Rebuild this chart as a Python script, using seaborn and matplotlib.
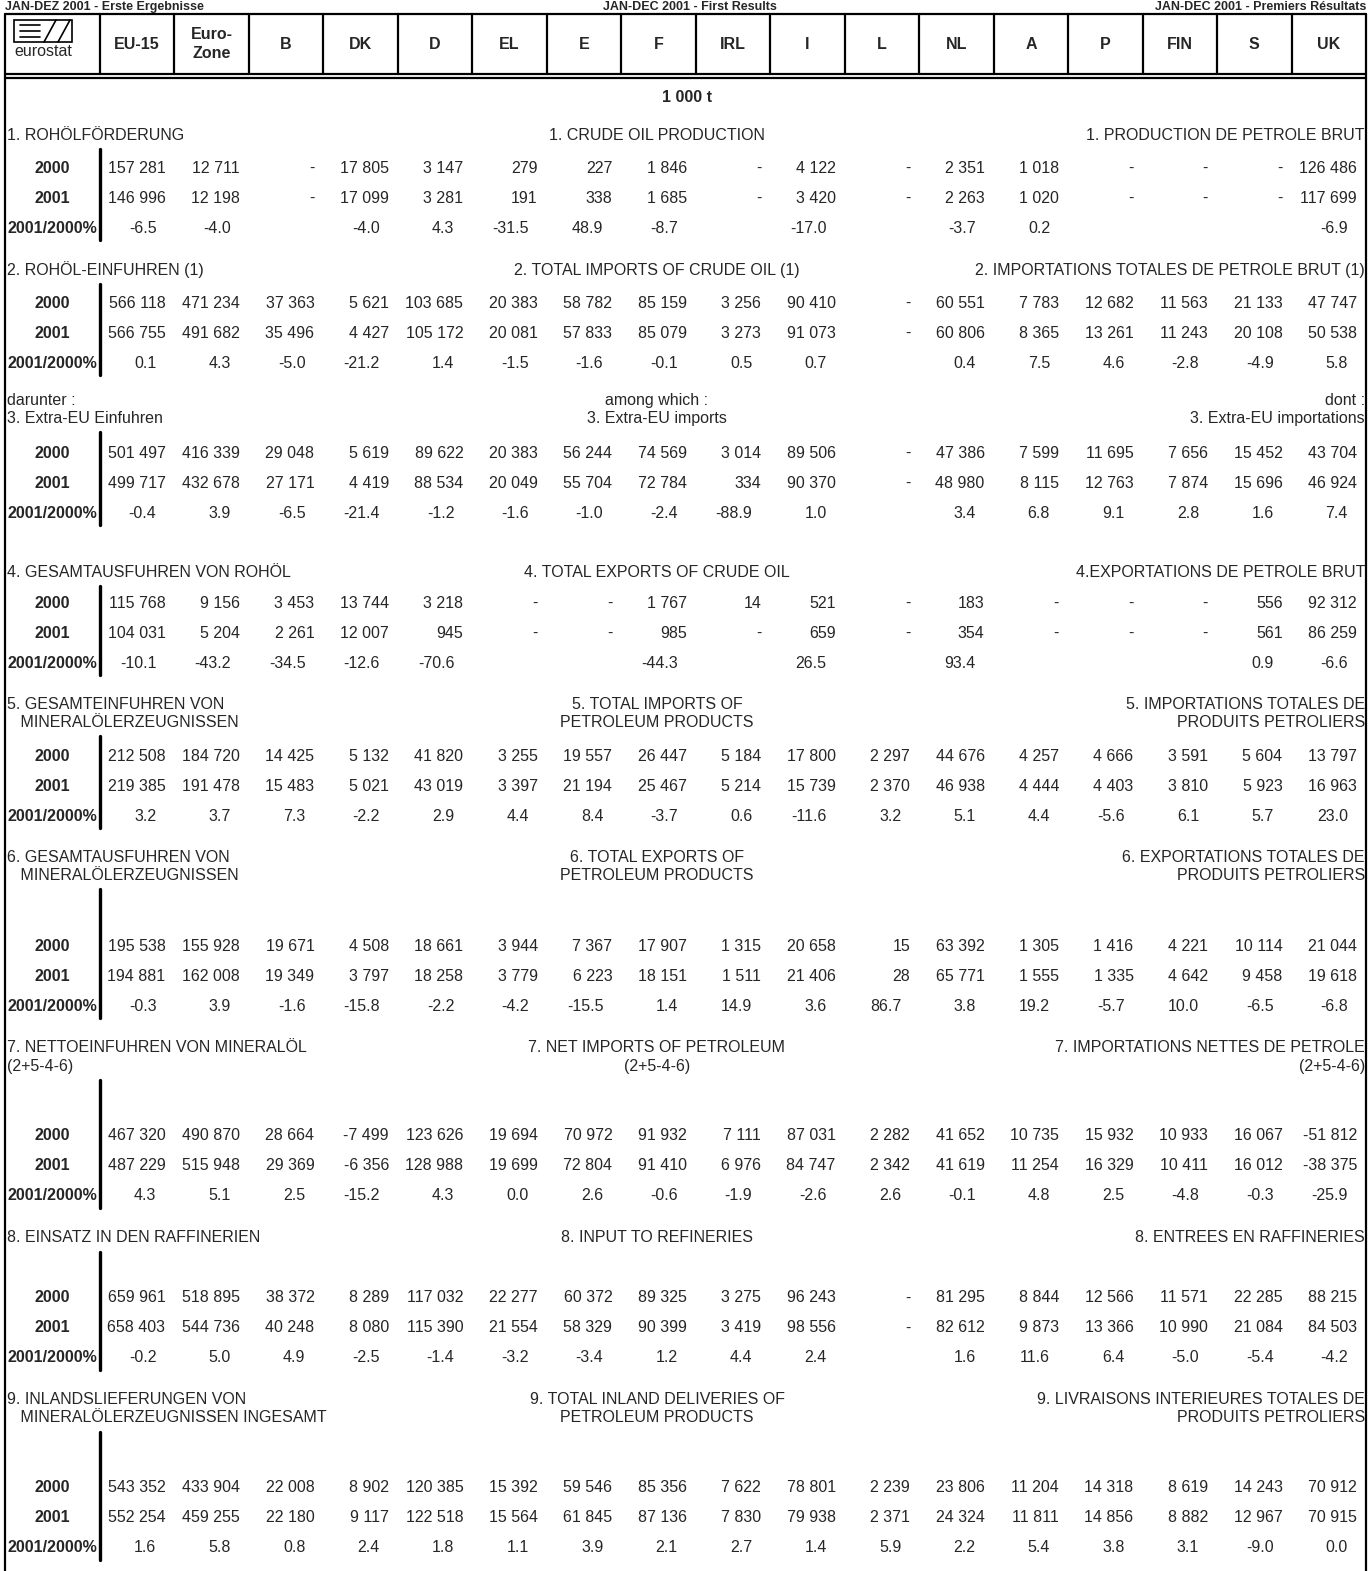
import numpy as np
import seaborn as sns
from matplotlib import pyplot as plt

sns.set_theme(style="white")
plt.rcParams['font.family'] = ['Liberation Sans Narrow', 'Liberation Sans', 'DejaVu Sans']

# --- data -------------------------------------------------------------
countries = ["EU-15", "Euro-\nZone", "B", "DK", "D", "EL", "E", "F", "IRL", "I",
             "L", "NL", "A", "P", "FIN", "S", "UK"]
N = None  # "-" in the table (no value)

prod_2000 = [157281, 12711, N, 17805, 3147, 279, 227, 1846, N, 4122, N, 2351, 1018, N, N, N, 126486]
prod_2001 = [146996, 12198, N, 17099, 3281, 191, 338, 1685, N, 3420, N, 2263, 1020, N, N, N, 117699]
prod_pct = [-6.5, -4.0, N, -4.0, 4.3, -31.5, 48.9, -8.7, N, -17.0, N, -3.7, 0.2, N, N, N, -6.9]

imp_2000 = [566118, 471234, 37363, 5621, 103685, 20383, 58782, 85159, 3256, 90410, N, 60551, 7783, 12682, 11563, 21133, 47747]
imp_2001 = [566755, 491682, 35496, 4427, 105172, 20081, 57833, 85079, 3273, 91073, N, 60806, 8365, 13261, 11243, 20108, 50538]
imp_pct = [0.1, 4.3, -5.0, -21.2, 1.4, -1.5, -1.6, -0.1, 0.5, 0.7, N, 0.4, 7.5, 4.6, -2.8, -4.9, 5.8]

xeu_2000 = [501497, 416339, 29048, 5619, 89622, 20383, 56244, 74569, 3014, 89506, N, 47386, 7599, 11695, 7656, 15452, 43704]
xeu_2001 = [499717, 432678, 27171, 4419, 88534, 20049, 55704, 72784, 334, 90370, N, 48980, 8115, 12763, 7874, 15696, 46924]
xeu_pct = [-0.4, 3.9, -6.5, -21.4, -1.2, -1.6, -1.0, -2.4, -88.9, 1.0, N, 3.4, 6.8, 9.1, 2.8, 1.6, 7.4]

exp_2000 = [115768, 9156, 3453, 13744, 3218, N, N, 1767, 14, 521, N, 183, N, N, N, 556, 92312]
exp_2001 = [104031, 5204, 2261, 12007, 945, N, N, 985, N, 659, N, 354, N, N, N, 561, 86259]
exp_pct = [-10.1, -43.2, -34.5, -12.6, -70.6, N, N, -44.3, N, 26.5, N, 93.4, N, N, N, 0.9, -6.6]

pimp_2000 = [212508, 184720, 14425, 5132, 41820, 3255, 19557, 26447, 5184, 17800, 2297, 44676, 4257, 4666, 3591, 5604, 13797]
pimp_2001 = [219385, 191478, 15483, 5021, 43019, 3397, 21194, 25467, 5214, 15739, 2370, 46938, 4444, 4403, 3810, 5923, 16963]
pimp_pct = [3.2, 3.7, 7.3, -2.2, 2.9, 4.4, 8.4, -3.7, 0.6, -11.6, 3.2, 5.1, 4.4, -5.6, 6.1, 5.7, 23.0]

pexp_2000 = [195538, 155928, 19671, 4508, 18661, 3944, 7367, 17907, 1315, 20658, 15, 63392, 1305, 1416, 4221, 10114, 21044]
pexp_2001 = [194881, 162008, 19349, 3797, 18258, 3779, 6223, 18151, 1511, 21406, 28, 65771, 1555, 1335, 4642, 9458, 19618]
pexp_pct = [-0.3, 3.9, -1.6, -15.8, -2.2, -4.2, -15.5, 1.4, 14.9, 3.6, 86.7, 3.8, 19.2, -5.7, 10.0, -6.5, -6.8]

net_2000 = [467320, 490870, 28664, -7499, 123626, 19694, 70972, 91932, 7111, 87031, 2282, 41652, 10735, 15932, 10933, 16067, -51812]
net_2001 = [487229, 515948, 29369, -6356, 128988, 19699, 72804, 91410, 6976, 84747, 2342, 41619, 11254, 16329, 10411, 16012, -38375]
net_pct = [4.3, 5.1, 2.5, -15.2, 4.3, 0.0, 2.6, -0.6, -1.9, -2.6, 2.6, -0.1, 4.8, 2.5, -4.8, -0.3, -25.9]

ref_2000 = [659961, 518895, 38372, 8289, 117032, 22277, 60372, 89325, 3275, 96243, N, 81295, 8844, 12566, 11571, 22285, 88215]
ref_2001 = [658403, 544736, 40248, 8080, 115390, 21554, 58329, 90399, 3419, 98556, N, 82612, 9873, 13366, 10990, 21084, 84503]
ref_pct = [-0.2, 5.0, 4.9, -2.5, -1.4, -3.2, -3.4, 1.2, 4.4, 2.4, N, 1.6, 11.6, 6.4, -5.0, -5.4, -4.2]

del_2000 = [543352, 433904, 22008, 8902, 120385, 15392, 59546, 85356, 7622, 78801, 2239, 23806, 11204, 14318, 8619, 14243, 70912]
del_2001 = [552254, 459255, 22180, 9117, 122518, 15564, 61845, 87136, 7830, 79938, 2371, 24324, 11811, 14856, 8882, 12967, 70915]
del_pct = [1.6, 5.8, 0.8, 2.4, 1.8, 1.1, 3.9, 2.1, 2.7, 1.4, 5.9, 2.2, 5.4, 3.8, 3.1, -9.0, 0.0]

# titles (German left / English centre / French right)
sections = [
    (["1. ROHÖLFÖRDERUNG"], ["1. CRUDE OIL PRODUCTION"], ["1. PRODUCTION DE PETROLE BRUT"],
     prod_2000, prod_2001, prod_pct),
    (["2. ROHÖL-EINFUHREN (1)"], ["2. TOTAL IMPORTS OF CRUDE OIL (1)"],
     ["2. IMPORTATIONS TOTALES DE PETROLE BRUT (1)"], imp_2000, imp_2001, imp_pct),
    (["darunter :", "3. Extra-EU Einfuhren"], ["among which :", "3. Extra-EU imports"],
     ["dont :", "3. Extra-EU importations"], xeu_2000, xeu_2001, xeu_pct),
    (["4. GESAMTAUSFUHREN VON ROHÖL"], ["4. TOTAL EXPORTS OF CRUDE OIL"],
     ["4.EXPORTATIONS DE PETROLE BRUT"], exp_2000, exp_2001, exp_pct),
    (["5. GESAMTEINFUHREN VON", "   MINERALÖLERZEUGNISSEN"], ["5. TOTAL IMPORTS OF", "PETROLEUM PRODUCTS"],
     ["5. IMPORTATIONS TOTALES DE", "PRODUITS PETROLIERS"], pimp_2000, pimp_2001, pimp_pct),
    (["6. GESAMTAUSFUHREN VON", "   MINERALÖLERZEUGNISSEN"], ["6. TOTAL EXPORTS OF", "PETROLEUM PRODUCTS"],
     ["6. EXPORTATIONS TOTALES DE", "PRODUITS PETROLIERS"], pexp_2000, pexp_2001, pexp_pct),
    (["7. NETTOEINFUHREN VON MINERALÖL", "(2+5-4-6)"], ["7. NET IMPORTS OF PETROLEUM", "(2+5-4-6)"],
     ["7. IMPORTATIONS NETTES DE PETROLE", "(2+5-4-6)"], net_2000, net_2001, net_pct),
    (["8. EINSATZ IN DEN RAFFINERIEN"], ["8. INPUT TO REFINERIES"], ["8. ENTREES EN RAFFINERIES"],
     ref_2000, ref_2001, ref_pct),
    (["9. INLANDSLIEFERUNGEN VON", "   MINERALÖLERZEUGNISSEN INGESAMT"],
     ["9. TOTAL INLAND DELIVERIES OF", "PETROLEUM PRODUCTS"],
     ["9. LIVRAISONS INTERIEURES TOTALES DE", "PRODUITS PETROLIERS"], del_2000, del_2001, del_pct),
]

row_labels = ["2000", "2001", "2001/2000%"]

# layout (pixels)
W, H = 1369, 1571
LEFT, RIGHT = 5, 1366
LABEL_R = 100
col_w = (RIGHT - LABEL_R) / len(countries)
title_y = [135, 270, 400, 572, 704, 857, 1048, 1238, 1400]
row_y = [168, 303, 453, 603, 756, 946, 1136, 1298, 1488]
ROW_STEP = 30
FS = 11.5


def fmt_num(v):
    if v is None:
        return "-"
    s = f"{abs(v):,}".replace(",", " ")
    return ("-" if v < 0 else "") + s


def fmt_pct(v):
    return "" if v is None else f"{v:.1f}"


fig = plt.figure(figsize=(W / 100, H / 100), dpi=100)
ax = fig.add_axes([0, 0, 1, 1])
ax.set_xlim(0, W)
ax.set_ylim(H, 0)
ax.axis("off")

# top running titles
ax.text(LEFT, 7, "JAN-DEZ 2001 - Erste Ergebnisse", ha="left", va="center", fontsize=9, weight="bold")
ax.text(690, 7, "JAN-DEC 2001 - First Results", ha="center", va="center", fontsize=9, weight="bold")
ax.text(RIGHT, 7, "JAN-DEC 2001 - Premiers Résultats", ha="right", va="center", fontsize=9, weight="bold")

# header box
lw = 1.6
ax.plot([LEFT, RIGHT], [14, 14], color="black", lw=lw)
ax.plot([LEFT, RIGHT], [74, 74], color="black", lw=lw)
ax.plot([LEFT, RIGHT], [78, 78], color="black", lw=lw)
ax.plot([LEFT, LEFT], [14, H], color="black", lw=lw)
ax.plot([RIGHT, RIGHT], [14, H], color="black", lw=lw)
for i in range(len(countries)):
    x = LABEL_R + i * col_w
    ax.plot([x, x], [14, 74], color="black", lw=lw)
    ax.text(x + col_w / 2, 44, countries[i], ha="center", va="center",
            fontsize=FS, weight="bold", linespacing=1.3)

# eurostat logo
ax.add_patch(plt.Rectangle((14, 20), 58, 22, fill=False, lw=1.2, color="black"))
ax.plot([20, 40], [31, 31], color="black", lw=1.2)
ax.plot([20, 40], [25, 25], color="black", lw=1.2)
ax.plot([20, 40], [37, 37], color="black", lw=1.2)
ax.plot([44, 56], [42, 20], color="black", lw=1.2)
ax.plot([58, 70], [42, 20], color="black", lw=1.2)
ax.text(43, 51, "eurostat", ha="center", va="center", fontsize=FS)

ax.text(687, 97, "1 000 t", ha="center", va="center", fontsize=FS, weight="bold")

# sections
for (de, en, fr, v00, v01, pct), ty, ry in zip(sections, title_y, row_y):
    for k in range(len(de)):
        yy = ty + k * 18
        ax.text(7, yy, de[k], ha="left", va="center", fontsize=FS)
        ax.text(657, yy, en[k], ha="center", va="center", fontsize=FS)
        ax.text(RIGHT - 1, yy, fr[k], ha="right", va="center", fontsize=FS)
    top = ty + 18 * (len(de) - 1) + 14
    bot = min(ry + 2 * ROW_STEP + 12, H)
    ax.plot([LABEL_R, LABEL_R], [top, bot], color="black", lw=2.4)
    for r, lab in enumerate(row_labels):
        ax.text(52, ry + r * ROW_STEP, lab, ha="center", va="center", fontsize=FS, weight="bold")
    for i in range(len(countries)):
        xr = LABEL_R + (i + 1) * col_w
        ax.text(xr - 9, ry, fmt_num(v00[i]), ha="right", va="center", fontsize=FS)
        ax.text(xr - 9, ry + ROW_STEP, fmt_num(v01[i]), ha="right", va="center", fontsize=FS)
        ax.text(xr - 18, ry + 2 * ROW_STEP, fmt_pct(pct[i]), ha="right", va="center", fontsize=FS)

fig.savefig("out.png", dpi=100)
